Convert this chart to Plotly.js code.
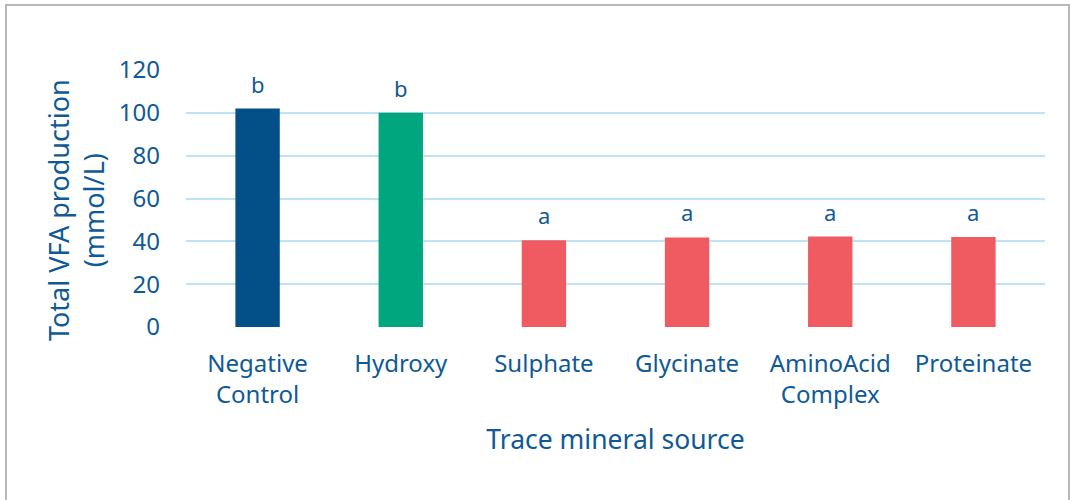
<!DOCTYPE html>
<html>
<head>
<meta charset="utf-8">
<script src="https://cdn.plot.ly/plotly-3.0.1.min.js"></script>
<style>
html,body{margin:0;padding:0;background:#fff;}
#frame{position:absolute;left:0;top:0;width:1071px;height:500px;}
#border{position:absolute;left:5px;top:4px;width:1065px;height:500px;border:2px solid #b8b8b8;border-bottom:none;box-sizing:border-box;pointer-events:none;}
#chart{position:absolute;left:0;top:0;width:1071px;height:500px;}
</style>
</head>
<body>
<div id="frame">
<div id="chart"></div>
<div id="border"></div>
</div>
<script>
const categories = ["Negative<br>Control", "Hydroxy", "Sulphate", "Glycinate", "AminoAcid<br>Complex", "Proteinate"];
const values = [102, 100, 40.5, 41.8, 42.2, 42.0];
const letters = ["b", "b", "a", "a", "a", "a"];
const barColors = ["#034F87", "#00A67E", "#EF5B61", "#EF5B61", "#EF5B61", "#EF5B61"];
const yTicks = [0, 20, 40, 60, 80, 100, 120];
const yTitle = "Total VFA production<br>(mmol/L)";
const xTitle = "Trace mineral source";

const textColor = "#0F5A96";
const font = "Noto Sans, Open Sans, sans-serif";

const trace = {
  type: "bar",
  x: categories,
  y: values,
  marker: {color: barColors, line: {width: 0}},
  hoverinfo: "x+y"
};

const annotations = categories.map((c, i) => ({
  x: c, y: values[i], xref: "x", yref: "y",
  text: letters[i], showarrow: false, yshift: 25,
  font: {family: font, size: 22, color: textColor}
}));

annotations.push({
  xref: "paper", yref: "paper", x: -0.128, y: 0.455,
  xanchor: "center", yanchor: "middle",
  text: yTitle, textangle: -90, showarrow: false,
  font: {family: font, size: 27, color: textColor}
});

const layout = {
  width: 1071, height: 500,
  margin: {l: 186, r: 26, t: 70, b: 173},
  paper_bgcolor: "#ffffff",
  plot_bgcolor: "#ffffff",
  bargap: 0.69,
  showlegend: false,
  font: {family: font, color: textColor},
  xaxis: {
    type: "category",
    showgrid: false, zeroline: false, showline: false,
    ticks: "",
    tickfont: {family: font, size: 24, color: textColor},
    ticklabelstandoff: 20,
    title: {text: xTitle, font: {family: font, size: 26.5, color: textColor}, standoff: 21},
    automargin: false
  },
  yaxis: {
    range: [0, 120],
    tickvals: yTicks,
    showgrid: true, gridcolor: "#BEE2F6", gridwidth: 2,
    zeroline: false, showline: false,
    ticks: "",
    tickfont: {family: font, size: 24, color: textColor},
    ticklabelstandoff: 25,
    automargin: false
  },
  annotations: annotations
};

Plotly.newPlot("chart", [trace], layout, {displayModeBar: false, staticPlot: true});
</script>
</body>
</html>
